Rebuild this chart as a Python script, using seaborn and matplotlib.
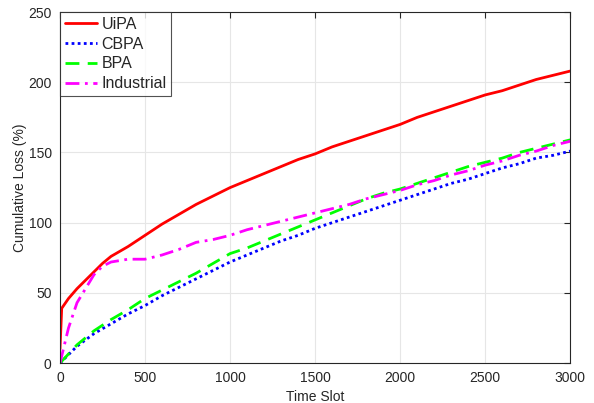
import numpy as np
import pandas as pd
import matplotlib
matplotlib.use("Agg")
import matplotlib.pyplot as plt
import seaborn as sns

sns.set_style("white")
plt.rcParams['font.family'] = ['Liberation Sans', 'DejaVu Sans']

x_uipa = [0, 10, 50, 100, 150, 200, 250, 300, 400, 500, 600, 700, 800, 900, 1000, 1100, 1200, 1300, 1400, 1500,
          1600, 1700, 1800, 1900, 2000, 2100, 2200, 2300, 2400, 2500, 2600, 2700, 2800, 2900, 3000]
uipa = [10, 39, 46, 53, 59, 65, 71, 76, 83, 91, 99, 106, 113, 119, 125, 130, 135, 140, 145, 149,
        154, 158, 162, 166, 170, 175, 179, 183, 187, 191, 194, 198, 202, 205, 208]

x_std = [0, 100, 200, 300, 400, 500, 600, 700, 800, 900, 1000, 1100, 1200, 1300, 1400, 1500,
         1600, 1700, 1800, 1900, 2000, 2100, 2200, 2300, 2400, 2500, 2600, 2700, 2800, 2900, 3000]
cbpa = [0, 12, 21, 28, 35, 41, 48, 54, 60, 66, 72, 77, 82, 87, 91, 96,
        100, 104, 108, 112, 116, 120, 124, 128, 131, 135, 139, 142, 146, 148, 151]
bpa = [0, 13, 23, 31, 38, 46, 52, 58, 64, 71, 78, 82, 87, 92, 97, 102,
       107, 112, 117, 121, 124, 128, 132, 136, 140, 143, 146, 150, 153, 156, 159]

x_ind = [0, 50, 100, 150, 200, 250, 300, 400, 500, 600, 700, 800, 900, 1000, 1100, 1200, 1300,
         1400, 1500, 1600, 1700, 1800, 1900, 2000, 2100, 2200, 2300, 2400, 2500, 2600, 2700, 2800, 2900, 3000]
industrial = [0, 25, 43, 53, 63, 69, 72, 74, 74, 77, 81, 86, 88, 91, 95, 98, 101,
              104, 107, 110, 113, 117, 120, 123, 127, 130, 134, 137, 141, 144, 148, 151, 155, 158]

fig = plt.figure(figsize=(5.94, 4.03), dpi=100)
ax = fig.add_axes([0.101, 0.099, 0.859, 0.871])

lw = 2.0
sns.lineplot(x=x_uipa, y=uipa, ax=ax, color='#ff0000', lw=lw, label='UiPA')
sns.lineplot(x=x_std, y=cbpa, ax=ax, color='#0000ff', lw=lw, label='CBPA', linestyle=(0, (1, 1.2)))
sns.lineplot(x=x_std, y=bpa, ax=ax, color='#00ff00', lw=lw, label='BPA', linestyle=(0, (5, 3)))
sns.lineplot(x=x_ind, y=industrial, ax=ax, color='#ff00ff', lw=lw, label='Industrial', linestyle=(0, (5, 2, 1, 2)))

ax.set_xlim(0, 3000)
ax.set_ylim(0, 250)
ax.set_xticks(range(0, 3001, 500))
ax.set_yticks(range(0, 251, 50))
ax.grid(True, color='#e6e6e6', lw=0.8)
for s in ax.spines.values():
    s.set_color('#262626')
    s.set_linewidth(0.8)
ax.tick_params(direction='in', length=4, width=0.8, colors='#262626', labelsize=10,
               top=True, right=True, labelcolor='#262626', pad=6)
ax.set_xlabel('Time Slot', fontsize=10, color='#262626', labelpad=3)
ax.set_ylabel('Cumulative Loss (%)', fontsize=10, color='#262626', labelpad=1)

leg = ax.legend(loc='upper left', fontsize=11.5, frameon=True, fancybox=False,
                borderaxespad=0, borderpad=0.3, handlelength=2.0, handletextpad=0.3,
                labelspacing=0.3, edgecolor='#262626')
leg.get_frame().set_linewidth(0.8)

fig.savefig('out.png', dpi=100)
